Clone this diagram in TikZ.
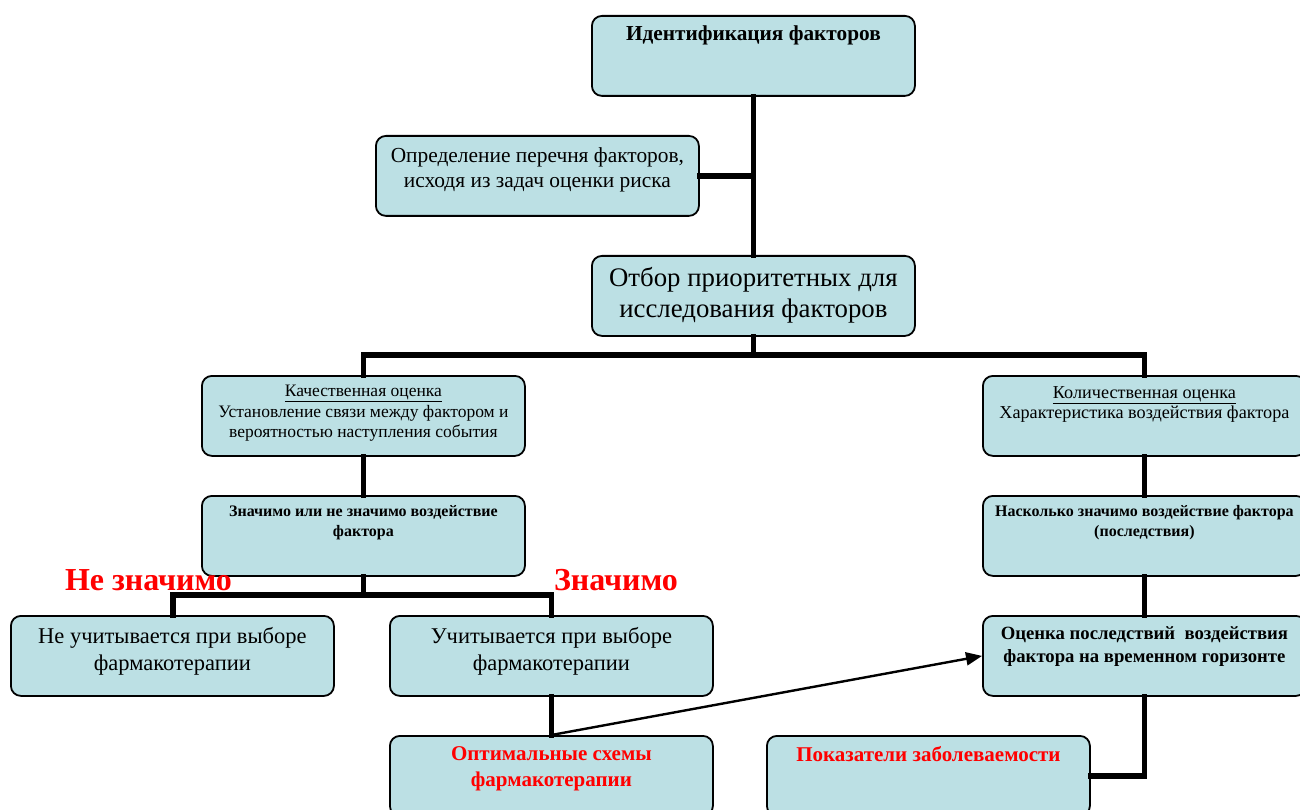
\documentclass[tikz,border=0pt]{standalone}
\usepackage{fontspec}
\setmainfont{Liberation Serif}
\usetikzlibrary{arrows.meta}
\definecolor{boxfill}{RGB}{188,224,228}
\definecolor{alert}{RGB}{255,0,0}
\tikzset{
  box/.style={draw=black, fill=boxfill, line width=1.8pt, rounded corners=10pt,
              minimum width=323pt, minimum height=80pt, inner sep=0pt, anchor=north west},
  txt/.style={anchor=north, align=center, inner sep=0pt},
  conn/.style={line width=5.4pt, line join=miter, line cap=rect},
  link/.style={line width=2.4pt, -{Triangle[length=16pt,width=13pt]}},
  redlabel/.style={text=alert, font=\fontsize{32}{36}\selectfont\bfseries, inner sep=0pt, anchor=base}
}
\newcommand{\fsz}[2]{\fontsize{#1}{#2}\selectfont}
\begin{document}
\begin{tikzpicture}[x=1pt,y=-1pt]
\useasboundingbox (0,0) rectangle (1300,810);
\fill[white] (0,0) rectangle (1300,810);

% boxes
\node[box] (id)    at (591,15)  {};
\node[box] (opr)   at (375,135) {};
\node[box] (otb)   at (591,255) {};
\node[box] (kach)  at (201,375) {};
\node[box] (kol)   at (982,375) {};
\node[box] (znach) at (201,495) {};
\node[box] (nask)  at (982,495) {};
\node[box] (ne)    at (10,615)  {};
\node[box] (uch)   at (389,615) {};
\node[box] (otsen) at (982,615) {};
\node[box] (opt)   at (389,735) {};
\node[box] (pok)   at (766,735) {};

% connectors
\coordinate (j1) at (752,355);
\coordinate (j2) at (362,595);
\draw[conn] (id.south) -- (otb.north);
\draw[conn] (opr.east) -- (opr.east -| id.south);
\draw[conn] (otb.south) -- (otb.south |- j1);
\draw[conn] (kach.north) -- (kach.north |- j1) -- (kol.north |- j1) -- (kol.north);
\draw[conn] (kach.south) -- (znach.north);
\draw[conn] (kol.south) -- (nask.north);
\draw[conn] (nask.south) -- (otsen.north);
\draw[conn] (otsen.south) -- (otsen.south |- pok.east) -- (pok.east);
\draw[conn] (znach.south) -- (znach.south |- j2);
\draw[conn] (ne.north -| 173,0) -- (j2 -| 173,0) -- (j2 -| uch.north) -- (uch.north);
\draw[conn] (uch.south) -- (opt.north);
\draw[link] (opt.north) -- (otsen.west);

% texts
\node[txt, font=\fsz{21.3}{23}\bfseries] (idt) at ([yshift=-10.5pt]id.north) {Идентификация факторов};
\node[txt, font=\fsz{21.4}{25}] (oprt) at ([yshift=-12.5pt]opr.north) {Определение перечня факторов,\\исходя из задач оценки риска};
\node[txt, font=\fsz{26.8}{31}] (otbt) at ([yshift=-12pt]otb.north) {Отбор приоритетных для\\исследования факторов};
\node[txt, font=\fsz{17.5}{20.6}] (kacht) at ([yshift=-10pt]kach.north) {\underline{Качественная оценка}\\Установление связи между фактором и\\вероятностью наступления события};
\node[txt, font=\fsz{18.2}{20.5}] (kolt) at ([yshift=-11pt]kol.north) {\underline{Количественная оценка}\\Характеристика воздействия фактора};
\node[txt, font=\fsz{16}{20}\bfseries] (znacht) at ([yshift=-10pt]znach.north) {Значимо или не значимо воздействие\\фактора};
\node[txt, font=\fsz{16}{20}\bfseries] (naskt) at ([yshift=-10pt]nask.north) {Насколько значимо воздействие фактора\\(последствия)};
\node[txt, font=\fsz{22.5}{27}] (net) at ([yshift=-12pt]ne.north) {Не учитывается при выборе\\фармакотерапии};
\node[txt, font=\fsz{22.5}{27}] (ucht) at ([yshift=-12pt]uch.north) {Учитывается при выборе\\фармакотерапии};
\node[txt, font=\fsz{18.7}{23}\bfseries] (otsent) at ([yshift=-11.5pt]otsen.north) {Оценка последствий\ \ воздействия\\фактора на временном горизонте};
\node[txt, font=\fsz{21}{26}\bfseries, text=alert] (optt) at ([yshift=-11pt]opt.north) {Оптимальные схемы\\фармакотерапии};
\node[txt, font=\fsz{21}{26}\bfseries, text=alert] (pokt) at ([yshift=-11.5pt]pok.north) {Показатели заболеваемости};

% branch labels
\node[redlabel] (nz) at (148.5,590) {Не значимо};
\node[redlabel] (z)  at (616,590) {Значимо};
\end{tikzpicture}
\end{document}
